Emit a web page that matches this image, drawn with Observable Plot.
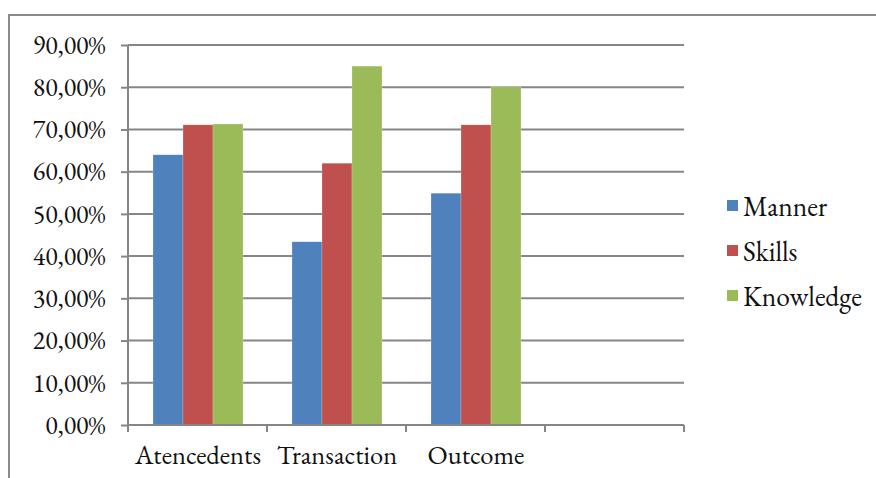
<!DOCTYPE html>
<html>
<head>
<meta charset="utf-8">
<script src="https://cdn.jsdelivr.net/npm/d3@7"></script>
<script src="https://cdn.jsdelivr.net/npm/@observablehq/plot@0.6"></script>
<style>
  body { margin: 0; background: #fff; }
  #wrap { position: relative; width: 876px; height: 478px; overflow: hidden; font-family: "EB Garamond", "Liberation Serif", serif; font-variant-numeric: lining-nums; }
  #border { position: absolute; left: 8px; top: 14px; right: -10px; bottom: -10px; border-left: 2px solid #8a8a8a; border-top: 2px solid #8a8a8a; }
  #legend { position: absolute; left: 727px; top: 183px; font-size: 27.5px; color: #111; }
  #legend .row { display: flex; align-items: center; height: 45px; }
  #legend .sw { width: 11px; height: 11px; margin-right: 5px; }
  svg text { font-variant-numeric: lining-nums; }
</style>
</head>
<body>
<div id="wrap">
  <div id="chart"></div>
  <div id="border"></div>
  <div id="legend"></div>
</div>
<script>
const categories = ["Atencedents", "Transaction", "Outcome", " "];
const series = ["Manner", "Skills", "Knowledge"];
const colors = ["#4F81BD", "#C0504D", "#9BBB59"];
const manner = [64.0, 43.4, 54.9];
const skills = [71.1, 62.0, 71.1];
const knowledge = [71.3, 85.0, 80.1];
const yTicks = [0, 10, 20, 30, 40, 50, 60, 70, 80, 90];

const values = [manner, skills, knowledge];
const data = [];
series.forEach((s, si) => values[si].forEach((v, ci) => data.push({cat: categories[ci], series: s, value: v})));

const fmt = d => d.toFixed(2).replace(".", ",") + "%";
const FONT = "'EB Garamond', 'Liberation Serif', serif";

const chart = Plot.plot({
  width: 876,
  height: 478,
  marginLeft: 127,
  marginRight: 191,
  marginTop: 45,
  marginBottom: 53,
  style: {fontFamily: FONT, fontSize: "26.5px", color: "#111", background: "transparent"},
  fx: {domain: categories, padding: 0, label: null, axis: "bottom", tickSize: 0, tickPadding: 20},
  x: {domain: series, paddingInner: 0, paddingOuter: 0.75, axis: null},
  y: {domain: [0, 90], label: null},
  color: {domain: series, range: colors},
  marks: [
    Plot.barY(data, {fx: "cat", x: "series", y: "value", fill: "series", stroke: "#ffffff", strokeOpacity: 0.35, strokeWidth: 0.6}),
    Plot.axisY(yTicks, {tickFormat: fmt, tickSize: 7, tickPadding: 16, stroke: "#868686", strokeWidth: 2, label: null, fontSize: 26})
  ]
});
document.getElementById("chart").appendChild(chart);

// gridlines, axis lines and category boundary ticks from the library's scales
const fx = chart.scale("fx");
const y = chart.scale("y");
const svg = d3.select(chart);
const x0 = fx.apply(categories[0]);
const x1 = fx.apply(categories[categories.length - 1]) + fx.bandwidth;
const bounds = categories.map(c => fx.apply(c)).concat([x1]);
const firstG = chart.querySelector("g");
const grid = d3.select(chart.insertBefore(document.createElementNS("http://www.w3.org/2000/svg", "g"), firstG))
  .attr("stroke", "#868686").attr("stroke-width", 2);
grid.selectAll("line").data(yTicks).join("line")
  .attr("x1", x0).attr("x2", x1).attr("y1", d => y.apply(d)).attr("y2", d => y.apply(d));
const g = svg.append("g").attr("stroke", "#868686").attr("stroke-width", 2);
g.append("line").attr("x1", x0).attr("x2", x0).attr("y1", y.apply(90)).attr("y2", y.apply(0));
g.append("line").attr("x1", x0).attr("x2", x1).attr("y1", y.apply(0)).attr("y2", y.apply(0));
g.selectAll("line.b").data(bounds).join("line").attr("class", "b")
  .attr("x1", d => d).attr("x2", d => d).attr("y1", y.apply(0)).attr("y2", y.apply(0) + 7);

const legend = d3.select("#legend");
series.forEach((s, i) => {
  const row = legend.append("div").attr("class", "row");
  row.append("div").attr("class", "sw").style("background", colors[i]);
  row.append("span").text(s);
});
</script>
</body>
</html>
